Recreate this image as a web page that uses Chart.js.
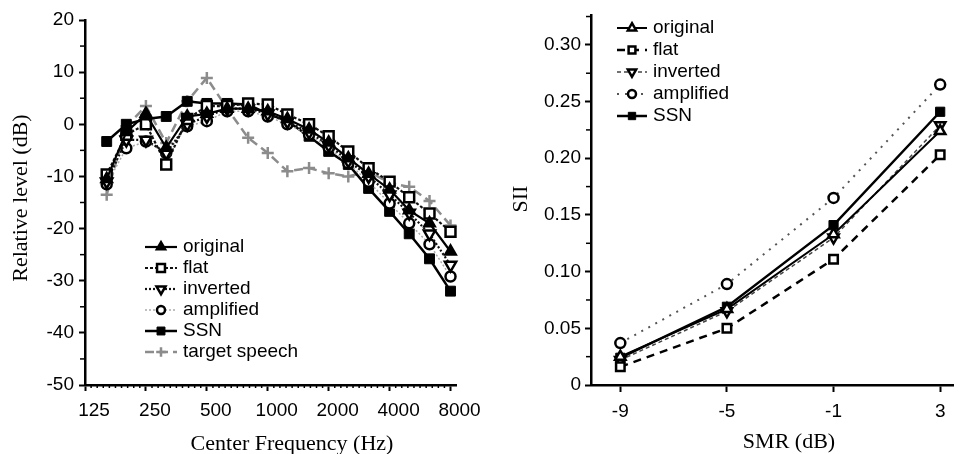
<!DOCTYPE html>
<html>
<head>
<meta charset="utf-8">
<script src="https://cdn.jsdelivr.net/npm/chart.js@4.4.1/dist/chart.umd.min.js"></script>
<style>
  html, body { margin: 0; padding: 0; background: #fff; }
  #wrap { position: relative; width: 962px; height: 454px; overflow: hidden; }
  canvas { position: absolute; top: 0; }
  #left { left: 0; }
  #right { left: 480px; }
</style>
</head>
<body>
<div id="wrap">
  <canvas id="left" width="480" height="454"></canvas>
  <canvas id="right" width="482" height="454"></canvas>
</div>
<script>
// left panel: 1/3-octave band levels
const freqs = [160, 200, 250, 315, 400, 500, 630, 800, 1000, 1250, 1600, 2000, 2500, 3150, 4000, 5000, 6300, 8000];
const levelOriginal = [-10.5, -1.5, 2, -4.5, 1.5, 2, 3, 3, 2.5, 1, -1, -3.5, -6.5, -9.5, -12.5, -16.5, -19, -24.4];
const levelFlat = [-9.6, -2, 0, -7.7, 1, 3.5, 3.5, 4, 3.8, 1.9, 0, -2.3, -5.2, -8.4, -11, -14, -17.1, -20.6];
const levelInverted = [-11, -3, -3, -5.5, 0, 1.5, 3, 3, 2, 0.5, -1.5, -4, -7, -10, -13.5, -17, -21, -27];
const levelAmplified = [-11.5, -4.6, -3.3, -5.5, -0.4, 0.6, 2.5, 2.5, 1.5, 0, -2, -4.5, -7.5, -11, -15.2, -19, -23, -29.2];
const levelSSN = [-3.3, 0, 1, 1.5, 4.4, 4, 4, 3.8, 2, 0.6, -2.3, -5.2, -7.7, -12.3, -16.7, -21, -25.8, -32];
const levelTarget = [-13.5, -0.4, 3.5, -3.6, 4.4, 8.9, 3, -2.6, -5.5, -9, -8.4, -9.4, -10, -9, -11.3, -12, -14.7, -19.4];
const freqTicks = [125, 250, 500, 1000, 2000, 4000, 8000];
const levelTicks = [-50, -40, -30, -20, -10, 0, 10, 20];

// right panel: SII vs SMR
const smr = [-9, -5, -1, 3];
const siiOriginal = [0.025, 0.067, 0.133, 0.224];
const siiFlat = [0.016, 0.050, 0.111, 0.203];
const siiInverted = [0.022, 0.065, 0.130, 0.229];
const siiAmplified = [0.037, 0.089, 0.165, 0.265];
const siiSSN = [0.024, 0.069, 0.141, 0.241];
const smrTicks = [-9, -5, -1, 3];
const siiTicks = [0, 0.05, 0.10, 0.15, 0.20, 0.25, 0.30];

const SANS = "'Liberation Sans', Arial, sans-serif";
const SERIF = "'Liberation Serif', 'Times New Roman', serif";
Chart.defaults.font.family = SANS;
Chart.defaults.font.size = 19;
Chart.defaults.color = '#000';

function series(label, xs, ys, style) {
  return Object.assign({
    label: label,
    data: xs.map((x, i) => ({ x: x, y: ys[i] })),
    fill: false,
    tension: 0,
    clip: false
  }, style);
}

// minor ticks, axis titles and line+marker legend
const extras = {
  id: 'extras',
  afterDraw(chart, args, opts) {
    const ctx = chart.ctx;
    ctx.save();
    ctx.strokeStyle = '#000';
    ctx.lineWidth = 1.5;
    ctx.setLineDash([]);
    (opts.minor || []).forEach(m => {
      const scale = chart.scales[m.axis];
      m.values.forEach(v => {
        const p = scale.getPixelForValue(v);
        ctx.beginPath();
        if (scale.isHorizontal()) {
          ctx.moveTo(p, scale.top);
          ctx.lineTo(p, scale.top + m.len);
        } else {
          ctx.moveTo(scale.right, p);
          ctx.lineTo(scale.right - m.len, p);
        }
        ctx.stroke();
      });
    });

    (opts.titles || []).forEach(t => {
      ctx.save();
      ctx.translate(t.x, t.y);
      if (t.rot) ctx.rotate(t.rot);
      ctx.font = '22px ' + SERIF;
      ctx.fillStyle = '#000';
      ctx.textAlign = 'center';
      ctx.textBaseline = 'middle';
      ctx.fillText(t.text, 0, 0);
      ctx.restore();
    });

    const lg = opts.legend;
    if (lg) {
      chart.data.datasets.forEach((ds, i) => {
        const y = lg.y + i * lg.dy;
        ctx.setLineDash(ds.borderDash || []);
        ctx.strokeStyle = ds.borderColor;
        ctx.lineWidth = ds.borderWidth;
        ctx.beginPath();
        ctx.moveTo(lg.x, y);
        ctx.lineTo(lg.x + lg.w, y);
        ctx.stroke();
        ctx.setLineDash([]);
        ctx.fillStyle = ds.pointBackgroundColor || '#fff';
        ctx.strokeStyle = ds.pointBorderColor;
        ctx.lineWidth = ds.pointBorderWidth;
        Chart.helpers.drawPoint(ctx, {
          pointStyle: ds.pointStyle,
          radius: ds.pointRadius * 0.8,
          rotation: ds.pointRotation || 0,
          borderWidth: ds.pointBorderWidth
        }, lg.x + lg.w / 2, y);
        ctx.fillStyle = '#000';
        ctx.font = '19px ' + SANS;
        ctx.textAlign = 'left';
        ctx.textBaseline = 'middle';
        ctx.fillText(ds.label, lg.x + lg.w + 6, y);
      });
    }
    ctx.restore();
  }
};

const axisGrid = { drawOnChartArea: false, drawTicks: true, tickLength: 6, tickWidth: 2, tickColor: '#000' };
const axisBorder = { display: true, color: '#000', width: 2.5 };

// minor tick positions
const octaveMinor = [];
for (let k = 0; k < 6; k++) {
  for (let j = 1; j < 10; j++) octaveMinor.push(125 * Math.pow(2, k + j / 10));
}

new Chart(document.getElementById('left'), {
  type: 'line',
  data: {
    datasets: [
      series('original', freqs, levelOriginal, {
        borderColor: '#000', borderWidth: 2.2,
        pointStyle: 'triangle', pointRadius: 6.5, pointBackgroundColor: '#000', pointBorderColor: '#000', pointBorderWidth: 2
      }),
      series('flat', freqs, levelFlat, {
        borderColor: '#111', borderWidth: 2.2, borderDash: [3, 2],
        pointStyle: 'rect', pointRadius: 7, pointBackgroundColor: '#fff', pointBorderColor: '#000', pointBorderWidth: 2.5
      }),
      series('inverted', freqs, levelInverted, {
        borderColor: '#111', borderWidth: 2.2, borderDash: [2, 2],
        pointStyle: 'triangle', pointRotation: 180, pointRadius: 6.5, pointBackgroundColor: '#fff', pointBorderColor: '#000', pointBorderWidth: 2.5
      }),
      series('amplified', freqs, levelAmplified, {
        borderColor: '#aaa', borderWidth: 1.5, borderDash: [2, 2],
        pointStyle: 'circle', pointRadius: 5, pointBackgroundColor: '#fff', pointBorderColor: '#000', pointBorderWidth: 2.5
      }),
      series('SSN', freqs, levelSSN, {
        borderColor: '#000', borderWidth: 2.5,
        pointStyle: 'rect', pointRadius: 7, pointBackgroundColor: '#000', pointBorderColor: '#000', pointBorderWidth: 1
      }),
      series('target speech', freqs, levelTarget, {
        borderColor: '#8c8c8c', borderWidth: 2.5, borderDash: [9, 5],
        pointStyle: 'cross', pointRadius: 6, pointBackgroundColor: '#8c8c8c', pointBorderColor: '#8c8c8c', pointBorderWidth: 2.5
      })
    ]
  },
  options: {
    responsive: false,
    animation: false,
    layout: { padding: { left: 0, top: 20, right: 22, bottom: 0 } },
    plugins: {
      legend: { display: false },
      tooltip: { enabled: false },
      extras: {
        minor: [
          { axis: 'x', values: octaveMinor, len: 3 },
          { axis: 'y', values: [-45, -35, -25, -15, -5, 5, 15], len: 5 }
        ],
        titles: [
          { text: 'Relative level (dB)', x: 21, y: 198, rot: -Math.PI / 2 },
          { text: 'Center Frequency (Hz)', x: 292, y: 444 }
        ],
        legend: { x: 145, y: 247, dy: 21, w: 32 }
      }
    },
    scales: {
      x: {
        type: 'logarithmic',
        min: 125,
        max: 8560,
        afterFit: s => { s.height = 69; },
        afterBuildTicks: s => { s.ticks = freqTicks.map(v => ({ value: v })); },
        grid: axisGrid,
        border: axisBorder,
        ticks: { autoSkip: false, maxRotation: 0, padding: 8, labelOffset: 9, callback: v => String(v) }
      },
      y: {
        min: -50,
        max: 20,
        afterFit: s => { s.width = 85; },
        afterBuildTicks: s => { s.ticks = levelTicks.map(v => ({ value: v })); },
        grid: axisGrid,
        border: axisBorder,
        ticks: { autoSkip: false, padding: 5, callback: v => String(v) }
      }
    }
  },
  plugins: [extras]
});

new Chart(document.getElementById('right'), {
  type: 'line',
  data: {
    datasets: [
      series('original', smr, siiOriginal, {
        borderColor: '#000', borderWidth: 2,
        pointStyle: 'triangle', pointRadius: 6, pointBackgroundColor: '#fff', pointBorderColor: '#000', pointBorderWidth: 2.5
      }),
      series('flat', smr, siiFlat, {
        borderColor: '#000', borderWidth: 2.5, borderDash: [8, 6],
        pointStyle: 'rect', pointRadius: 6, pointBackgroundColor: '#fff', pointBorderColor: '#000', pointBorderWidth: 2.5
      }),
      series('inverted', smr, siiInverted, {
        borderColor: '#444', borderWidth: 1.5, borderDash: [4, 3],
        pointStyle: 'triangle', pointRotation: 180, pointRadius: 6, pointBackgroundColor: '#fff', pointBorderColor: '#000', pointBorderWidth: 2.5
      }),
      series('amplified', smr, siiAmplified, {
        borderColor: '#555', borderWidth: 2, borderDash: [2, 6],
        pointStyle: 'circle', pointRadius: 5, pointBackgroundColor: '#fff', pointBorderColor: '#000', pointBorderWidth: 2.5
      }),
      series('SSN', smr, siiSSN, {
        borderColor: '#000', borderWidth: 2.5,
        pointStyle: 'rect', pointRadius: 6.5, pointBackgroundColor: '#000', pointBorderColor: '#000', pointBorderWidth: 1
      })
    ]
  },
  options: {
    responsive: false,
    animation: false,
    layout: { padding: { left: 0, top: 10, right: 0, bottom: 0 } },
    plugins: {
      legend: { display: false },
      tooltip: { enabled: false },
      extras: {
        minor: [
          { axis: 'y', values: [0.025, 0.075, 0.125, 0.175, 0.225, 0.275, 0.325], len: 5 }
        ],
        titles: [
          { text: 'SII', x: 41, y: 199, rot: -Math.PI / 2 },
          { text: 'SMR (dB)', x: 309, y: 442 }
        ],
        legend: { x: 137, y: 28, dy: 22, w: 30 }
      }
    },
    scales: {
      x: {
        type: 'linear',
        min: -10.1,
        max: 3.5,
        afterFit: s => { s.height = 69; },
        afterBuildTicks: s => { s.ticks = smrTicks.map(v => ({ value: v })); },
        grid: Object.assign({}, axisGrid, { tickLength: 7 }),
        border: axisBorder,
        ticks: { autoSkip: false, maxRotation: 0, padding: 8, callback: v => String(v) }
      },
      y: {
        min: 0,
        max: 0.326,
        afterFit: s => { s.width = 111; },
        afterBuildTicks: s => { s.ticks = siiTicks.map(v => ({ value: v })); },
        grid: axisGrid,
        border: axisBorder,
        ticks: { autoSkip: false, padding: 4, callback: v => (v === 0 ? '0' : v.toFixed(2)) }
      }
    }
  },
  plugins: [extras]
});
</script>
</body>
</html>
